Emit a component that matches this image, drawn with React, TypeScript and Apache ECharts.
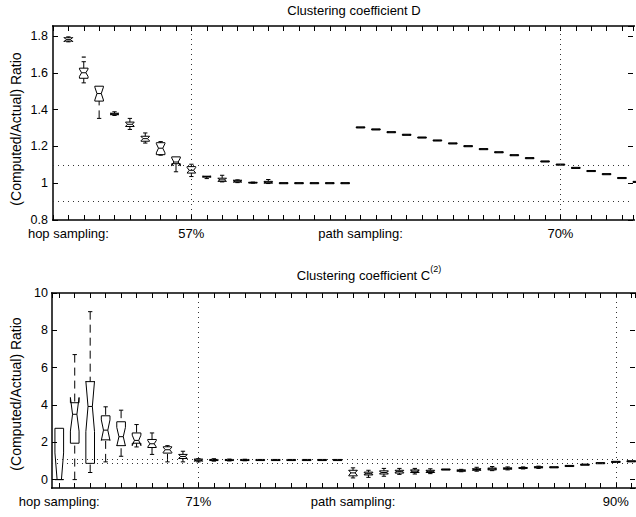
import React, { useEffect, useRef } from 'react';
import * as echarts from 'echarts';

const FONT = '"Liberation Sans", Arial, Helvetica, sans-serif';

// ---------- Panel 1: Clustering coefficient D (positions 1..38) ----------
const dPos = [1, 2, 3, 4, 5, 6, 7, 8, 9, 10, 11, 12, 13, 14, 15, 16, 17, 18, 19, 20, 21, 22, 23, 24, 25, 26, 27, 28, 29, 30, 31, 32, 33, 34, 35, 36, 37, 38];
const dLow = [1.768, 1.545, 1.352, 1.368, 1.292, 1.218, 1.152, 1.062, 1.036, 1.025, 1.007, 1.003, 1.000, 0.998, 0.997, 0.997, 0.997, 0.997, 0.997, 1.300, 1.289, 1.274, 1.260, 1.245, 1.229, 1.213, 1.198, 1.182, 1.165, 1.149, 1.133, 1.115, 1.098, 1.080, 1.063, 1.046, 1.025, 1.004];
const dQ1 = [1.772, 1.570, 1.446, 1.372, 1.308, 1.228, 1.155, 1.106, 1.055, 1.033, 1.010, 1.006, 1.001, 1.000, 0.997, 0.997, 0.997, 0.997, 0.997, 1.300, 1.289, 1.274, 1.260, 1.245, 1.229, 1.213, 1.198, 1.182, 1.165, 1.149, 1.133, 1.115, 1.098, 1.080, 1.063, 1.046, 1.025, 1.004];
const dMed = [1.780, 1.600, 1.487, 1.376, 1.320, 1.242, 1.190, 1.115, 1.070, 1.036, 1.018, 1.011, 1.003, 1.005, 1.000, 1.000, 1.000, 1.000, 1.000, 1.303, 1.292, 1.277, 1.263, 1.248, 1.232, 1.216, 1.201, 1.185, 1.168, 1.152, 1.136, 1.118, 1.101, 1.083, 1.066, 1.049, 1.028, 1.007];
const dQ3 = [1.790, 1.625, 1.527, 1.380, 1.332, 1.255, 1.220, 1.143, 1.090, 1.038, 1.027, 1.016, 1.005, 1.010, 1.003, 1.003, 1.003, 1.003, 1.003, 1.306, 1.295, 1.280, 1.266, 1.251, 1.235, 1.219, 1.204, 1.188, 1.171, 1.155, 1.139, 1.121, 1.104, 1.086, 1.069, 1.052, 1.031, 1.010];
const dHigh = [1.795, 1.660, 1.527, 1.388, 1.352, 1.273, 1.226, 1.143, 1.103, 1.038, 1.043, 1.018, 1.006, 1.020, 1.003, 1.003, 1.003, 1.003, 1.003, 1.306, 1.295, 1.280, 1.266, 1.251, 1.235, 1.219, 1.204, 1.188, 1.171, 1.155, 1.139, 1.121, 1.104, 1.086, 1.069, 1.052, 1.031, 1.010];
const dNotch = [0.012, 0.020, 0.035, 0.004, 0.010, 0.012, 0.025, 0.022, 0.015, 0.002, 0.008, 0.005, 0.001, 0.003, 0, 0, 0, 0, 0, 0, 0, 0, 0, 0, 0, 0, 0, 0, 0, 0, 0, 0, 0, 0, 0, 0, 0, 0];
const dOutliers = [[2, 1.685]];
const dLabelPos = [1, 9, 20, 33];
const dLabelText = ['hop sampling:', '57%', 'path sampling:', '70%'];
const dRefY = [1.1, 0.9];
const dRefX = [9, 33];
const dXRange = [0, 37.72];
const dYRange = [0.8, 1.854];

// ---------- Panel 2: Clustering coefficient C(2) (positions 1..38) ----------
const cPos = [1, 2, 3, 4, 5, 6, 7, 8, 9, 10, 11, 12, 13, 14, 15, 16, 17, 18, 19, 20, 21, 22, 23, 24, 25, 26, 27, 28, 29, 30, 31, 32, 33, 34, 35, 36, 37, 38];
const cLow = [0, 0, 0.38, 0.95, 1.25, 1.75, 1.35, 0.95, 0.95, 0.95, 0.99, 1.00, 1.01, 1.02, 1.02, 1.02, 1.02, 1.02, 1.02, 0.09, 0.12, 0.18, 0.28, 0.30, 0.32, 0.51, 0.42, 0.45, 0.48, 0.52, 0.57, 0.60, 0.63, 0.70, 0.77, 0.85, 0.92, 0.95];
const cQ1 = [0, 1.95, 0.87, 2.13, 1.82, 1.95, 1.72, 1.42, 1.13, 1.00, 1.02, 1.02, 1.02, 1.02, 1.02, 1.02, 1.02, 1.02, 1.02, 0.20, 0.25, 0.30, 0.35, 0.38, 0.38, 0.51, 0.45, 0.50, 0.52, 0.56, 0.60, 0.63, 0.63, 0.70, 0.77, 0.85, 0.92, 0.95];
const cMed = [0, 3.50, 3.92, 2.65, 2.30, 2.10, 1.92, 1.60, 1.24, 1.04, 1.05, 1.05, 1.05, 1.05, 1.05, 1.05, 1.05, 1.05, 1.05, 0.36, 0.32, 0.38, 0.43, 0.45, 0.44, 0.54, 0.48, 0.54, 0.57, 0.59, 0.62, 0.66, 0.66, 0.73, 0.80, 0.88, 0.95, 0.98];
const cQ3 = [2.75, 4.12, 5.25, 3.42, 3.10, 2.50, 2.15, 1.76, 1.35, 1.10, 1.08, 1.08, 1.08, 1.08, 1.08, 1.08, 1.08, 1.08, 1.08, 0.50, 0.40, 0.47, 0.50, 0.52, 0.50, 0.57, 0.52, 0.58, 0.62, 0.63, 0.65, 0.69, 0.69, 0.76, 0.83, 0.91, 0.98, 1.01];
const cHigh = [2.75, 6.70, 9.00, 3.90, 3.72, 2.95, 2.50, 1.82, 1.52, 1.12, 1.12, 1.10, 1.09, 1.08, 1.08, 1.08, 1.08, 1.08, 1.08, 0.63, 0.50, 0.60, 0.60, 0.60, 0.58, 0.57, 0.55, 0.66, 0.70, 0.68, 0.68, 0.72, 0.69, 0.76, 0.83, 0.91, 0.98, 1.01];
const cNotch = [1.43, 0.90, 1.35, 0.55, 0.50, 0.28, 0.18, 0.14, 0.10, 0.05, 0.02, 0.02, 0.01, 0, 0, 0, 0, 0, 0, 0.15, 0.05, 0.06, 0.05, 0.05, 0.04, 0, 0.02, 0.03, 0.03, 0.02, 0.02, 0.02, 0, 0, 0, 0, 0, 0];
const cLabelPos = [1, 10, 20, 37];
const cLabelText = ['hop sampling:', '71%', 'path sampling:', '90%'];
const cRefY = [1.1, 0.9];
const cRefX = [10, 37];
const cXRange = [0.53, 38.24];
const cYRange = [-0.45, 10];

const renderBox = (_params: any, api: any) => {
  const x = api.value(0);
  const lo = api.value(1);
  const q1 = api.value(2);
  const med = api.value(3);
  const q3 = api.value(4);
  const hi = api.value(5);
  const notch = api.value(6);
  const band = api.size([1, 0])[0];
  const hw = band * 0.28;
  const cx = api.coord([x, med])[0];
  const y = (v: number) => api.coord([x, v])[1];
  const nlo = Math.max(med - notch, lo);
  const nhi = Math.min(med + notch, hi);
  const xL = cx - hw;
  const xR = cx + hw;
  const xLi = cx - hw / 2;
  const xRi = cx + hw / 2;
  const st = { stroke: '#000', fill: 'none', lineWidth: 1 };
  const children: any[] = [
    {
      type: 'polygon',
      shape: {
        points: [
          [xL, y(q1)], [xL, y(nlo)], [xLi, y(med)], [xL, y(nhi)], [xL, y(q3)],
          [xR, y(q3)], [xR, y(nhi)], [xRi, y(med)], [xR, y(nlo)], [xR, y(q1)],
        ],
      },
      style: st,
    },
    { type: 'line', shape: { x1: xLi, y1: y(med), x2: xRi, y2: y(med) }, style: st },
  ];
  const cw = hw * 0.5;
  if (hi > q3) {
    children.push(
      { type: 'line', shape: { x1: cx, y1: y(hi), x2: cx, y2: y(q3) }, style: { ...st, lineDash: [8, 5] } },
      { type: 'line', shape: { x1: cx - cw, y1: y(hi), x2: cx + cw, y2: y(hi) }, style: st },
    );
  }
  if (lo < q1) {
    children.push(
      { type: 'line', shape: { x1: cx, y1: y(lo), x2: cx, y2: y(q1) }, style: { ...st, lineDash: [8, 5] } },
      { type: 'line', shape: { x1: cx - cw, y1: y(lo), x2: cx + cw, y2: y(lo) }, style: st },
    );
  }
  return { type: 'group', children };
};

// draws the bottom and top frame lines of a panel through the axis scales
const makeFrame = (xr: number[], yr: number[]) => (_params: any, api: any) => {
  const a = api.coord([xr[0], yr[0]]);
  const b = api.coord([xr[1], yr[0]]);
  const c = api.coord([xr[0], yr[1]]);
  const d = api.coord([xr[1], yr[1]]);
  const st = { stroke: '#000', lineWidth: 1.6, fill: 'none' };
  return {
    type: 'group',
    children: [
      { type: 'polyline', shape: { points: [[a[0] - 1, a[1]], [b[0] + 2, b[1]]] }, style: st },
      { type: 'polyline', shape: { points: [[c[0] - 1, c[1]], [d[0] + 2, d[1]]] }, style: st },
    ],
  };
};

const mkLine = (show = true) => ({ show, onZero: false, lineStyle: { color: '#000', width: 1.5 } });
const mkTick = () => ({ show: true, inside: true, length: 5, lineStyle: { color: '#000', width: 1 } });
const mkRef = () => ({ type: [1, 4], color: '#333', width: 1 });

export default function App() {
  const ref = useRef<HTMLDivElement>(null);
  useEffect(() => {
    if (!ref.current) return;
    const chart = echarts.init(ref.current, undefined, { renderer: 'svg' });

    const dData = dPos.map((p, i) => [p, dLow[i], dQ1[i], dMed[i], dQ3[i], dHigh[i], dNotch[i]]);
    const cData = cPos.map((p, i) => [p, cLow[i], cQ1[i], cMed[i], cQ3[i], cHigh[i], cNotch[i]]);

    const isInt = (v: number) => Math.abs(v - Math.round(v)) < 1e-6;

    const option: any = {
      animation: false,
      backgroundColor: '#fff',
      grid: [
        { left: 53, top: 26, width: 582, height: 194 },
        { left: 52, top: 293, width: 583, height: 195 },
      ],
      xAxis: [
        {
          gridIndex: 0, type: 'value', min: dXRange[0], max: dXRange[1], interval: 1, position: 'bottom',
          axisLine: mkLine(false), axisTick: mkTick(), splitLine: { show: false },
          axisLabel: {
            color: '#000', fontSize: 13, fontFamily: FONT, margin: 7,
            formatter: (v: number) => {
              const i = dLabelPos.indexOf(Math.round(v));
              return isInt(v) && i >= 0 ? dLabelText[i] : '';
            },
          },
        },
        {
          gridIndex: 0, type: 'value', min: dXRange[0], max: dXRange[1], interval: 1, position: 'top',
          axisLine: mkLine(false), axisTick: mkTick(), splitLine: { show: false },
          axisLabel: { show: false },
        },
        {
          gridIndex: 1, type: 'value', min: cXRange[0], max: cXRange[1], splitNumber: 38, position: 'bottom',
          axisLine: mkLine(false), axisTick: mkTick(), splitLine: { show: false },
          axisLabel: {
            color: '#000', fontSize: 13, fontFamily: FONT, margin: 7,
            showMinLabel: false, showMaxLabel: false,
            formatter: (v: number) => {
              const i = cLabelPos.indexOf(Math.round(v));
              return isInt(v) && i >= 0 ? cLabelText[i] : '';
            },
          },
        },
        {
          gridIndex: 1, type: 'value', min: cXRange[0], max: cXRange[1], splitNumber: 38, position: 'top',
          axisLine: mkLine(false), axisTick: mkTick(), splitLine: { show: false }, axisLabel: { show: false },
        },
      ],
      yAxis: [
        {
          gridIndex: 0, type: 'value', min: dYRange[0], max: dYRange[1], interval: 0.2, position: 'left',
          axisLine: mkLine(), axisTick: mkTick(), splitLine: { show: false },
          axisLabel: { color: '#000', fontSize: 12.5, fontFamily: FONT, margin: 5, showMaxLabel: false },
        },
        {
          gridIndex: 0, type: 'value', min: dYRange[0], max: dYRange[1], interval: 0.2, position: 'right',
          axisLine: mkLine(false), axisTick: mkTick(), splitLine: { show: false }, axisLabel: { show: false },
        },
        {
          gridIndex: 1, type: 'value', min: cYRange[0], max: cYRange[1], splitNumber: 5, position: 'left',
          axisLine: mkLine(), axisTick: mkTick(), splitLine: { show: false },
          axisLabel: {
            color: '#000', fontSize: 12.5, fontFamily: FONT, margin: 4, showMinLabel: false,
            formatter: (v: number) => (isInt(v) ? String(Math.round(v)) : ''),
          },
        },
        {
          gridIndex: 1, type: 'value', min: cYRange[0], max: cYRange[1], splitNumber: 5, position: 'right',
          axisLine: mkLine(false), axisTick: mkTick(), splitLine: { show: false }, axisLabel: { show: false },
        },
      ],
      series: [
        {
          type: 'custom', name: 'frameD', xAxisIndex: 0, yAxisIndex: 0, data: [[dXRange[0], dYRange[0]]],
          renderItem: makeFrame(dXRange, dYRange), silent: true, clip: false, z: 5,
        },
        {
          type: 'custom', name: 'frameC', xAxisIndex: 2, yAxisIndex: 2, data: [[cXRange[0], cYRange[0]]],
          renderItem: makeFrame(cXRange, cYRange), silent: true, clip: false, z: 5,
        },
        {
          type: 'custom', name: 'D', xAxisIndex: 0, yAxisIndex: 0, data: dData,
          encode: { x: 0, y: [1, 2, 3, 4, 5] }, renderItem: renderBox, silent: true,
          markLine: {
            silent: true, symbol: ['none', 'none'], label: { show: false }, lineStyle: mkRef(),
            data: [...dRefY.map((v) => ({ yAxis: v })), ...dRefX.map((v) => ({ xAxis: v }))],
          },
        },
        {
          type: 'scatter', xAxisIndex: 0, yAxisIndex: 0, data: dOutliers, symbol: 'rect',
          symbolSize: [4, 1.5], itemStyle: { color: '#000' }, silent: true,
        },
        {
          type: 'custom', name: 'C2', xAxisIndex: 2, yAxisIndex: 2, data: cData,
          encode: { x: 0, y: [1, 2, 3, 4, 5] }, renderItem: renderBox, silent: true,
          markLine: {
            silent: true, symbol: ['none', 'none'], label: { show: false }, lineStyle: mkRef(),
            data: [...cRefY.map((v) => ({ yAxis: v })), ...cRefX.map((v) => ({ xAxis: v }))],
          },
        },
      ],
      graphic: [
        {
          type: 'text', x: 354, y: 10,
          style: { text: 'Clustering coefficient D', fill: '#000', font: `13px ${FONT}`, textAlign: 'center', textVerticalAlign: 'middle' },
        },
        {
          type: 'text', x: 369, y: 273,
          style: {
            text: '{a|Clustering coefficient C}{b|(2)}', fill: '#000', textAlign: 'center', textVerticalAlign: 'middle',
            rich: {
              a: { fontSize: 13, fontFamily: FONT, fill: '#000', lineHeight: 18, verticalAlign: 'bottom' },
              b: { fontSize: 9, fontFamily: FONT, fill: '#000', lineHeight: 18, verticalAlign: 'top' },
            },
          },
        },
        {
          type: 'text', x: 16, y: 129, rotation: Math.PI / 2,
          style: { text: '(Computed/Actual) Ratio', fill: '#000', font: `14px ${FONT}`, textAlign: 'center', textVerticalAlign: 'middle' },
        },
        {
          type: 'text', x: 16, y: 394, rotation: Math.PI / 2,
          style: { text: '(Computed/Actual) Ratio', fill: '#000', font: `14px ${FONT}`, textAlign: 'center', textVerticalAlign: 'middle' },
        },
      ],
    };
    chart.setOption(option);
    return () => chart.dispose();
  }, []);
  return <div ref={ref} style={{ position: 'fixed', left: 0, top: 0, width: 636, height: 517 }} />;
}
